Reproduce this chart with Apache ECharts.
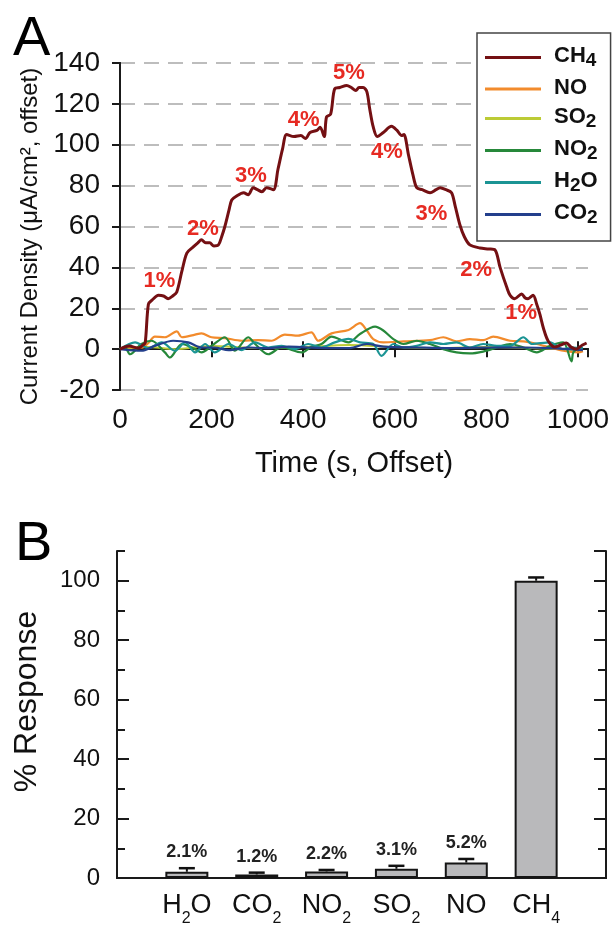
<!DOCTYPE html>
<html>
<head>
<meta charset="utf-8">
<script src="https://cdn.jsdelivr.net/npm/echarts@6/dist/echarts.min.js"></script>
<style>
html,body{margin:0;padding:0;background:#fff;}
#chart{width:615px;height:927px;}
</style>
</head>
<body>
<div id="chart"></div>
<script>
// ---------- Panel A data: [time (s), current density] ----------
const ch4 = [[0,0],[20,1.5],[40,0.5],[50,2],[55,3],[62,22],[70,24],[84,26.3],[95,26],[105,24.7],[115,26],[124,28],[135,38],[146,47],[160,50],[170,52],[178,53.5],[187,52],[196,52],[205,50.5],[215,51],[222,55],[229,60],[238,68],[244,73],[255,75],[270,76.5],[280,75.5],[291,79],[300,78],[310,77],[320,79],[335,78],[345,88],[355,98],[364,105],[380,104],[395,104.5],[405,103],[415,106],[430,107],[437,108.6],[446,104],[451,113.6],[460,115],[469,127.5],[480,128],[495,129],[505,128],[515,126.5],[522,128],[531,128],[539,126],[545,118],[553,108.7],[562,104],[575,106],[593,109],[605,107],[615,104.5],[620,105],[630,95],[640,85],[648,79],[660,78],[677,76.5],[690,78],[699,79],[712,78],[724,76.5],[732,70],[742,61],[752,55],[764,51],[786,49.5],[805,49],[819,48.5],[830,40],[845,30],[852,26.3],[862,24.7],[877,27],[885,25],[891,24.7],[902,26.3],[910,22],[917,17],[925,10],[935,4],[950,1],[962,2],[975,3],[985,1],[996,0],[1010,2],[1019,3]];
const no = [[0,0],[20,1],[47,0.8],[62,3],[76,6.1],[98,5.8],[124,8.7],[135,5.8],[164,7.1],[178,7.7],[200,5.8],[229,5.4],[266,4.1],[302,4.4],[331,4.1],[360,7.1],[389,6.6],[418,8.2],[433,4.1],[462,7.7],[499,9.4],[524,12.7],[539,9.1],[553,4.9],[575,3.3],[619,3.8],[677,4.4],[706,5.8],[735,3.8],[764,4.9],[793,4.4],[815,6.1],[852,4.1],[881,3.8],[910,2.5],[939,0.8],[968,-0.8],[1000,-1.6],[1011,-1.0]];
const so2 = [[0,0],[60,1],[120,0],[200,1.5],[300,0.5],[400,1],[500,2],[600,1],[700,0.5],[800,1],[900,0.5],[1000,-0.5]];
const no2 = [[0,0],[11,0.8],[22,-2.5],[47,2.5],[69,4.1],[98,-1.6],[109,-4.1],[135,2.5],[164,0],[178,-1.6],[200,1.6],[229,5.8],[251,-0.8],[280,5.8],[295,2.5],[324,-2.5],[353,0.8],[397,-1.6],[418,1.2],[440,2.5],[462,6.1],[499,3.3],[524,7.4],[557,11],[575,9.1],[597,4.9],[619,2.5],[648,4.1],[677,2.5],[706,0],[735,-1.6],[764,-2.1],[793,-1.2],[823,0.8],[852,2.5],[881,0.8],[910,-1.6],[939,1.6],[968,3.3],[986,-6],[990,-1.5],[1004,0.8]];
const h2o = [[0,0],[33,3.3],[62,0.5],[91,3.3],[120,-0.8],[142,3.3],[164,-1.6],[186,2.5],[207,-1.6],[237,2.5],[266,-0.5],[295,3.3],[324,0.8],[353,1.6],[382,0],[411,2.5],[440,0.8],[469,3.3],[499,5.0],[524,3.3],[553,2.5],[571,-3.3],[597,2.5],[619,0.8],[648,1.6],[677,3.3],[706,2.5],[735,3.3],[764,0.8],[793,2.5],[823,1.6],[852,1.6],[881,5.8],[900,2.5],[939,3.3],[968,0],[990,0.8],[1011,0.5]];
const co2 = [[0,0],[47,-0.8],[76,1.6],[116,4.1],[149,3.3],[178,0.8],[207,0.8],[237,-0.5],[280,0.8],[324,0.5],[368,1.2],[411,0.8],[455,0.5],[502,0.5],[539,2.5],[575,1.2],[648,0.8],[720,0.5],[793,0.8],[881,0.8],[939,0.5],[1011,-0.5]];

// concentration annotations (time, value, text)
const annoT = [87, 182, 287, 402, 501, 584, 681, 779, 877];
const annoV = [32.9, 58.4, 84.7, 112, 135, 96.3, 66, 38.7, 17.3];
const annoText = ['1%','2%','3%','4%','5%','4%','3%','2%','1%'];

// axis ticks
const xTicksA = {min: 0, max: 1022, interval: 200};
const yTicksA = {min: -20, max: 140, interval: 20};

// ---------- Panel B data ----------
const categories = ['H2O','CO2','NO2','SO2','NO','CH4'];
const response = [2.1, 1.2, 2.2, 3.1, 5.2, 100];
const responseErr = [1.2, 0.6, 0.5, 1.0, 1.2, 1.1];
const responseLabels = ['2.1%','1.2%','2.2%','3.1%','5.2%',''];
const yTicksB = {min: 0, max: 110, interval: 20, minor: 10};

const FONT = 'Liberation Sans, Arial, sans-serif';
const AX = '#1a1a1a';

function subRich(name, tagN, tagS) {
  return name.replace(/(\d)/g, '}{' + tagS + '|$1}{' + tagN + '|').replace(/^/, '{' + tagN + '|') + '}';
}

const colors = {CH4:'#741013', NO:'#f28b2c', SO2:'#bccb35', NO2:'#26883a', H2O:'#1b9494', CO2:'#233f8c'};

const chart = echarts.init(document.getElementById('chart'), null, {renderer: 'canvas'});

function lineSeries(name, data, w) {
  return {
    name: name, type: 'line', data: data, xAxisIndex: 0, yAxisIndex: 0,
    symbol: 'none', smooth: 0.3, lineStyle: {width: w, color: colors[name]},
    itemStyle: {color: colors[name]}, emphasis: {disabled: true}, animation: false
  };
}

const option = {
  animation: false,
  textStyle: {fontFamily: FONT},
  title: [
    {text: 'A', left: 8, top: 7, textStyle: {fontSize: 56, fontWeight: 'normal', color: '#000', fontFamily: FONT}},
    {text: 'B', left: 10, top: 512, textStyle: {fontSize: 56, fontWeight: 'normal', color: '#000', fontFamily: FONT}}
  ],
  grid: [
    {left: 120, top: 63, width: 468, height: 327},
    {left: 117, top: 551, width: 489, height: 336}
  ],
  legend: {
    data: ['CH4','NO','SO2','NO2','H2O','CO2'],
    orient: 'vertical', left: 477, top: 33,
    backgroundColor: '#fff', borderColor: '#444', borderWidth: 1.5,
    padding: [12, 13, 14, 8],
    icon: 'rect',
    itemWidth: 56, itemHeight: 3, itemGap: 7,
    selectedMode: false,
    formatter: function (name) { return subRich(name, 'n', 's'); },
    textStyle: {
      padding: [0, 0, 0, 8],
      rich: {
        n: {fontSize: 22, fontWeight: 'bold', color: '#111', lineHeight: 24, verticalAlign: 'top', fontFamily: FONT},
        s: {fontSize: 19, fontWeight: 'bold', color: '#111', lineHeight: 25, verticalAlign: 'bottom', fontFamily: FONT}
      }
    }
  },
  xAxis: [
    {
      gridIndex: 0, type: 'value', position: 'bottom',
      min: xTicksA.min, max: xTicksA.max, interval: xTicksA.interval,
      axisLine: {lineStyle: {color: AX, width: 2}},
      axisTick: {inside: true, length: 8, lineStyle: {color: AX, width: 2}},
      axisLabel: {fontSize: 28, color: '#111', margin: 16, showMaxLabel: false, fontFamily: FONT,
                  formatter: v => String(v)},
      splitLine: {show: false},
      name: 'Time (s, Offset)', nameLocation: 'middle', nameGap: 59,
      nameTextStyle: {fontSize: 29, color: '#111', fontFamily: FONT}
    },
    {
      gridIndex: 0, type: 'value', position: 'top',
      min: xTicksA.min, max: xTicksA.max, interval: xTicksA.interval,
      axisLine: {lineStyle: {color: AX, width: 2}},
      axisTick: {inside: true, length: 8, lineStyle: {color: AX, width: 2}},
      axisLabel: {show: false}, splitLine: {show: false}
    },
    {
      gridIndex: 1, type: 'value', position: 'bottom', min: 0, max: 7, interval: 1,
      axisLine: {lineStyle: {color: AX, width: 2}},
      axisTick: {show: false}, splitLine: {show: false},
      axisLabel: {
        margin: 14, showMinLabel: false, showMaxLabel: false,
        formatter: function (v) {
          const c = categories[v - 1];
          return c ? subRich(c, 'n', 's') : '';
        },
        rich: {
          n: {fontSize: 27, color: '#111', lineHeight: 30, verticalAlign: 'top', fontFamily: FONT},
          s: {fontSize: 16, color: '#111', lineHeight: 35, verticalAlign: 'bottom', fontFamily: FONT}
        }
      }
    },
    {
      gridIndex: 1, type: 'value', position: 'top', min: 0, max: 7,
      axisLine: {lineStyle: {color: AX, width: 2}},
      axisTick: {show: false}, axisLabel: {show: false}, splitLine: {show: false}
    }
  ],
  yAxis: [
    {
      gridIndex: 0, type: 'value', position: 'left',
      min: yTicksA.min, max: yTicksA.max, interval: yTicksA.interval,
      axisLine: {show: true, lineStyle: {color: AX, width: 2}},
      axisTick: {show: true, inside: false, length: 5, lineStyle: {color: AX, width: 2}},
      axisLabel: {fontSize: 28, color: '#111', margin: 20, fontFamily: FONT},
      splitLine: {show: true, lineStyle: {color: '#bdbdbd', width: 2, type: [15, 9]}},
      name: 'Current Density (\u03bcA/cm\u00b2, offset)', nameLocation: 'middle', nameGap: 78,
      nameTextStyle: {fontSize: 24, color: '#111', padding: [0, 20, 0, 0], fontFamily: FONT}
    },
    {
      gridIndex: 0, type: 'value', position: 'right',
      min: yTicksA.min, max: yTicksA.max, interval: yTicksA.interval,
      axisLine: {show: true, lineStyle: {color: AX, width: 2}},
      axisTick: {show: true, inside: true, length: 8, lineStyle: {color: AX, width: 2}},
      axisLabel: {show: false}, splitLine: {show: false}
    },
    {
      gridIndex: 1, type: 'value', position: 'left',
      min: yTicksB.min, max: yTicksB.max, interval: yTicksB.interval,
      axisLine: {show: true, lineStyle: {color: AX, width: 2}},
      axisTick: {show: true, inside: true, length: 12, lineStyle: {color: AX, width: 2}},
      axisLabel: {fontSize: 24, color: '#111', margin: 17, showMaxLabel: false, fontFamily: FONT},
      splitLine: {show: false},
      name: '% Response', nameLocation: 'middle', nameGap: 74,
      nameTextStyle: {fontSize: 32, color: '#111', padding: [0, 0, 0, 26], fontFamily: FONT}
    },
    {
      gridIndex: 1, type: 'value', position: 'left',
      min: yTicksB.min, max: yTicksB.max, interval: yTicksB.minor,
      axisLine: {show: false},
      axisTick: {show: true, inside: true, length: 8, lineStyle: {color: AX, width: 2}},
      axisLabel: {show: false}, splitLine: {show: false}
    },
    {
      gridIndex: 1, type: 'value', position: 'right',
      min: yTicksB.min, max: yTicksB.max, interval: yTicksB.interval,
      axisLine: {show: true, lineStyle: {color: AX, width: 2}},
      axisTick: {show: true, inside: true, length: 12, lineStyle: {color: AX, width: 2}},
      axisLabel: {show: false}, splitLine: {show: false}
    },
    {
      gridIndex: 1, type: 'value', position: 'right',
      min: yTicksB.min, max: yTicksB.max, interval: yTicksB.minor,
      axisLine: {show: false},
      axisTick: {show: true, inside: true, length: 8, lineStyle: {color: AX, width: 2}},
      axisLabel: {show: false}, splitLine: {show: false}
    }
  ],
  series: [
    lineSeries('SO2', so2, 2),
    lineSeries('NO', no, 2.2),
    lineSeries('NO2', no2, 2.2),
    lineSeries('H2O', h2o, 2.2),
    lineSeries('CO2', co2, 2.2),
    lineSeries('CH4', ch4, 3),
    {
      name: 'conc', type: 'scatter', xAxisIndex: 0, yAxisIndex: 0,
      symbolSize: 1, silent: true, itemStyle: {opacity: 0},
      data: annoT.map((t, i) => [t, annoV[i], annoText[i]]),
      label: {
        show: true, position: [0, 0], align: 'center', verticalAlign: 'middle',
        formatter: p => p.data[2], opacity: 1, textBorderWidth: 0,
        fontSize: 22, fontWeight: 'bold', color: '#e62a22', fontFamily: FONT
      },
      z: 5
    },
    {
      name: 'response', type: 'bar', xAxisIndex: 2, yAxisIndex: 2,
      barWidth: 43,
      data: response.map((v, i) => [i + 1, v]),
      itemStyle: {color: '#b9b9bb', borderColor: '#151515', borderWidth: 2},
      z: 2
    },
    {
      name: 'err', type: 'custom', xAxisIndex: 2, yAxisIndex: 2,
      data: response.map((v, i) => [i + 1, v, v + responseErr[i]]),
      renderItem: function (params, api) {
        const x = api.value(0);
        const lo = api.coord([x, api.value(1)]);
        const hi = api.coord([x, api.value(2)]);
        const hw = 8;
        return {
          type: 'group',
          children: [
            {type: 'line', shape: {x1: lo[0], y1: lo[1], x2: hi[0], y2: hi[1]}, style: {stroke: '#111', lineWidth: 2}},
            {type: 'line', shape: {x1: hi[0] - hw, y1: hi[1], x2: hi[0] + hw, y2: hi[1]}, style: {stroke: '#111', lineWidth: 2.5}},
            {type: 'text', x: hi[0], y: hi[1] - 7,
             style: {text: responseLabels[params.dataIndex], align: 'center', verticalAlign: 'bottom',
                     fontSize: 18, fontWeight: 'bold', fill: '#222', fontFamily: FONT}}
          ]
        };
      },
      z: 3
    }
  ]
};
chart.setOption(option);
</script>
</body>
</html>
